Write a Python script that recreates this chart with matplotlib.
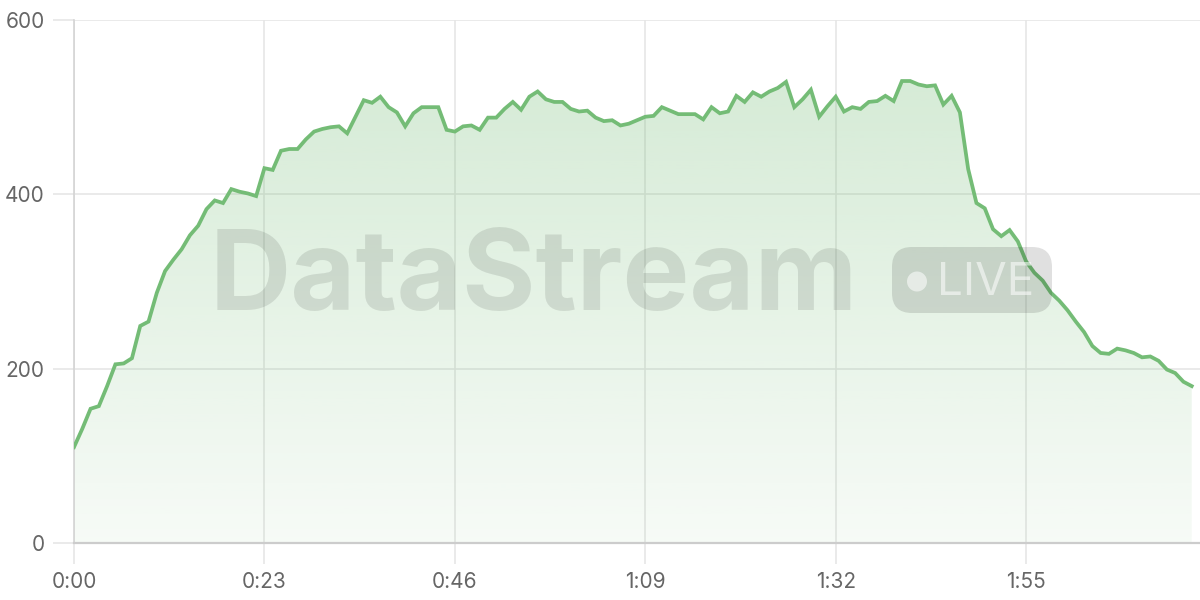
import numpy as np
import matplotlib
matplotlib.use('Agg')
from matplotlib import pyplot as plt
from matplotlib.patches import FancyBboxPatch, Circle

# Valores por segundo
valores = [110, 131, 154, 157, 180, 205, 206, 212, 249, 254,
           287, 312, 325, 337, 353, 364, 383, 393, 390, 406,
           403, 401, 398, 430, 428, 450, 452, 452, 463, 472,
           475, 477, 478, 470, 489, 508, 505, 512, 500, 494,
           478, 493, 500, 500, 500, 474, 472, 478, 479, 474,
           488, 488, 498, 506, 497, 512, 518, 509, 506, 506,
           498, 495, 496, 488, 484, 485, 479, 481, 485, 489,
           490, 500, 496, 492, 492, 492, 486, 500, 493, 495,
           513, 506, 517, 512, 518, 522, 529, 500, 509, 520,
           489, 501, 512, 495, 500, 498, 506, 507, 513, 507,
           530, 530, 526, 524, 525, 503, 513, 494, 429, 390,
           384, 360, 352, 359, 346, 323, 310, 301, 287, 278,
           267, 254, 242, 226, 218, 217, 223, 221, 218, 213,
           214, 209, 199, 195, 185, 180]
segundos = list(range(len(valores)))

x_ticks = [0, 23, 46, 69, 92, 115]
x_labels = ['0:00', '0:23', '0:46', '1:09', '1:32', '1:55']
y_ticks = [0, 200, 400, 600]

VERDE = '#74bc76'
GRID = '#e6e6e6'

plt.rcParams['font.family'] = ['Inter', 'DejaVu Sans']

fig = plt.figure(figsize=(12, 6), dpi=100)
ax = fig.add_axes([74 / 1200, 57 / 600, 1126 / 1200, 523 / 600])

ax.set_xlim(0, 136)
ax.set_ylim(0, 600)

# relleno con degradado
poly = ax.fill_between(segundos, valores, 0, color='none', lw=0)
grad = np.linspace(0.06, 0.30, 256).reshape(-1, 1)
rgba = np.zeros((256, 1, 4))
rgba[..., 0] = 116 / 255
rgba[..., 1] = 188 / 255
rgba[..., 2] = 118 / 255
rgba[..., 3] = grad
img = ax.imshow(rgba, extent=[0, segundos[-1], 0, 540], origin='lower',
                aspect='auto', zorder=1)
img.set_clip_path(poly.get_paths()[0], transform=ax.transData)

ax.plot(segundos, valores, color=VERDE, lw=2.7, zorder=3,
        solid_joinstyle='miter')

ax.set_xticks(x_ticks)
ax.set_xticklabels(x_labels)
ax.set_yticks(y_ticks)
ax.grid(True, color=GRID, lw=1.2, zorder=0)
ax.set_axisbelow(True)

for s in ['top', 'right']:
    ax.spines[s].set_visible(False)
ax.spines['left'].set_color('#d4d4d4')
ax.spines['left'].set_linewidth(1.2)
ax.spines['bottom'].set_color('#cccccc')
ax.spines['bottom'].set_linewidth(1.6)

ax.tick_params(axis='both', length=15, width=1.2, color=GRID,
               labelsize=15, labelcolor='#666666')
ax.tick_params(axis='x', pad=6)
ax.tick_params(axis='y', pad=6)

# marca de agua
ov = fig.add_axes([0, 0, 1, 1], zorder=5)
ov.set_xlim(0, 1200)
ov.set_ylim(600, 0)
ov.axis('off')
ov.patch.set_alpha(0)

ov.text(210, 310, 'DataStream', fontsize=81, fontweight='bold',
        color='black', alpha=0.10, ha='left', va='baseline')
ov.add_patch(FancyBboxPatch((892, 247), 160, 66,
                            boxstyle='round,pad=0,rounding_size=20',
                            fc='black', ec='none', alpha=0.12))
ov.add_patch(Circle((917, 281.5), 10, fc='white', ec='none', alpha=0.55))
ov.text(937, 295, 'LIVE', fontsize=33, color='white', alpha=0.55,
        ha='left', va='baseline')

fig.savefig('out.png', dpi=100)
